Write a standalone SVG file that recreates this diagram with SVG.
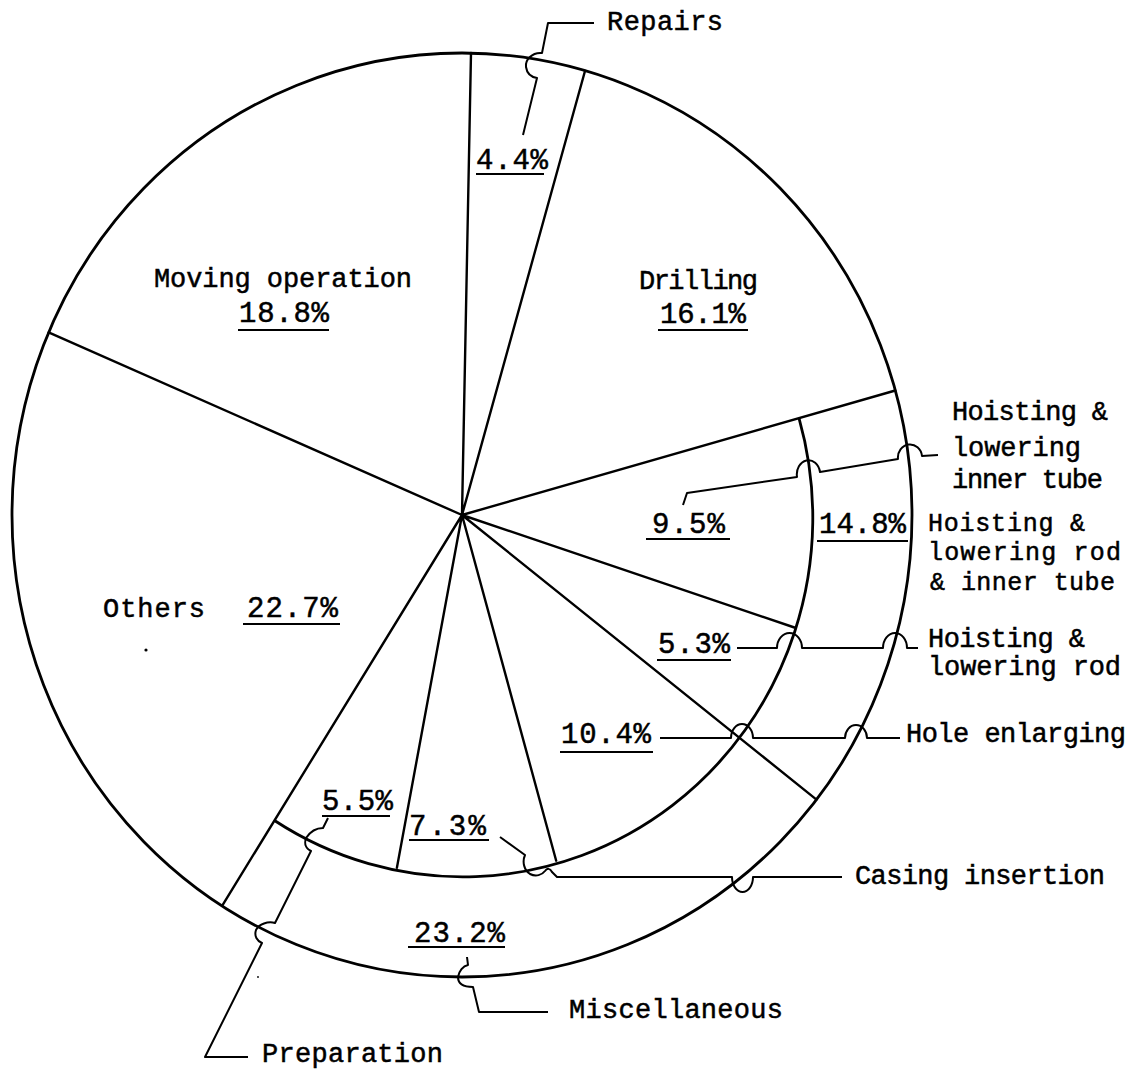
<svg xmlns="http://www.w3.org/2000/svg" width="1131" height="1072" viewBox="0 0 1131 1072">
<style>
  .bg { fill: #fff; }
  .arc { fill: none; stroke: #000; stroke-width: 2.8; }
  .ray { fill: none; stroke: #000; stroke-width: 2.4; stroke-linecap: round; }
  .lead { fill: none; stroke: #000; stroke-width: 2; stroke-linejoin: round; }
  .ul { stroke: #000; stroke-width: 2.2; }
  .w { font-family: "Liberation Mono", "Courier New", monospace; font-size: 27px; fill: #000; stroke: #000; stroke-width: 0.5; }
  .s { font-size: 25px; }
  .p { font-family: "Liberation Mono", "Courier New", monospace; font-size: 29px; fill: #000; stroke: #000; stroke-width: 0.5; }
</style>
<rect class="bg" x="0" y="0" width="1131" height="1072"/>

<g id="pie">
  <ellipse class="arc" cx="462" cy="515" rx="450" ry="462"/>
  <path class="arc" d="M799,418.1 A350,359 0 0 1 274.5,820.5"/>
  <path class="ray" d="M462,515 L48.6,332.4 M462,515 L471,53 M462,515 L585,71 M462,515 L895.3,390.5 M462,515 L794.4,627.5 M462,515 L816.5,799.6 M462,515 L556.2,860.7 M462,515 L396.9,867.7 M462,515 L222.1,905.8"/>
  <circle cx="146" cy="650" r="1.6" fill="#000"/>
  <circle cx="258" cy="977" r="0.9" fill="#000"/>
</g>

<g id="connectors">
  <path id="lead-repairs" class="lead" d="M594,23 H548 L542,53 C532,52 525,60 526,67 C527,74 531,77 537,78 L523,135"/>
  <path id="lead-hlit" class="lead" d="M683,505 L687,493 L797,477 A11.5,14 0 0 1 820,472 L898,459 A12,13 0 0 1 922,456 L938,455"/>
  <path id="lead-hlr" class="lead" d="M737,648 H777 A12.5,15 0 0 1 802,648 H883 A12,15 0 0 1 907,648 H918"/>
  <path id="lead-hole" class="lead" d="M660,738 H731 A11,14 0 0 1 753,738 H845 A11,13 0 0 1 867,738 H900"/>
  <path id="lead-casing" class="lead" d="M500,837 L525,855 C522,862 524,870 530,874 C536,877 542,875 545,871 C547,868 550,868 552,872 L557,877 H732 A10.5,15 0 0 0 753,877 H842"/>
  <path id="lead-misc" class="lead" d="M467,957 L468,965 C463,966 459,971 458,977 C458,984 463,987 473,987 L479,1012 H548"/>
  <path id="lead-prep" class="lead" d="M328,818 L323,828 C316,828 310,832 306,838 C304,844 306,849 311,851 L275,923 C268,921 259,924 256,930 C254,936 257,941 262,943 L205,1057 H248"/>
</g>

<g id="repairs">
  <text class="w" x="607" y="30" textLength="116" lengthAdjust="spacing">Repairs</text>
  <text class="p" x="476" y="169" textLength="72" lengthAdjust="spacing">4.4%</text>
  <line class="ul" x1="476" y1="174" x2="544" y2="174"/>
</g>

<g id="moving-operation">
  <text class="w" x="154" y="287" textLength="258" lengthAdjust="spacing">Moving operation</text>
  <text class="p" x="239" y="322" textLength="90" lengthAdjust="spacing">18.8%</text>
  <line class="ul" x1="238" y1="330" x2="329" y2="330"/>
</g>

<g id="drilling">
  <text class="w" x="639" y="289" textLength="119" lengthAdjust="spacing">Drilling</text>
  <text class="p" x="660" y="323" textLength="86" lengthAdjust="spacing">16.1%</text>
  <line class="ul" x1="658" y1="330" x2="748" y2="330"/>
</g>

<g id="hoisting-lowering-inner-tube">
  <text class="w" x="952" y="420" textLength="156" lengthAdjust="spacing">Hoisting &amp;</text>
  <text class="w" x="952" y="456" textLength="129" lengthAdjust="spacing">lowering</text>
  <text class="w" x="952" y="488" textLength="151" lengthAdjust="spacing">inner tube</text>
  <text class="p" x="652" y="533" textLength="73" lengthAdjust="spacing">9.5%</text>
  <line class="ul" x1="646" y1="539" x2="730" y2="539"/>
</g>

<g id="hoisting-lowering-rod-inner-tube">
  <text class="p" x="819" y="533" textLength="87" lengthAdjust="spacing">14.8%</text>
  <line class="ul" x1="817" y1="541" x2="908" y2="541"/>
  <text class="w s" x="928" y="531" textLength="157" lengthAdjust="spacing">Hoisting &amp;</text>
  <text class="w s" x="928" y="560" textLength="193" lengthAdjust="spacing">lowering rod</text>
  <text class="w s" x="930" y="590" textLength="185" lengthAdjust="spacing">&amp; inner tube</text>
</g>

<g id="others">
  <text class="w" x="103" y="617" textLength="102" lengthAdjust="spacing">Others</text>
  <text class="p" x="247" y="617" textLength="91" lengthAdjust="spacing">22.7%</text>
  <line class="ul" x1="243" y1="624" x2="340" y2="624"/>
</g>

<g id="hoisting-lowering-rod">
  <text class="p" x="658" y="653" textLength="72" lengthAdjust="spacing">5.3%</text>
  <line class="ul" x1="657" y1="660" x2="731" y2="660"/>
  <text class="w" x="928" y="647" textLength="157" lengthAdjust="spacing">Hoisting &amp;</text>
  <text class="w" x="928" y="675" textLength="193" lengthAdjust="spacing">lowering rod</text>
</g>

<g id="hole-enlarging">
  <text class="p" x="561" y="743" textLength="90" lengthAdjust="spacing">10.4%</text>
  <line class="ul" x1="560" y1="752" x2="653" y2="752"/>
  <text class="w" x="906" y="742" textLength="220" lengthAdjust="spacing">Hole enlarging</text>
</g>

<g id="preparation">
  <text class="p" x="322" y="810" textLength="71" lengthAdjust="spacing">5.5%</text>
  <line class="ul" x1="322" y1="816" x2="390" y2="816"/>
  <text class="w" x="262" y="1062" textLength="181" lengthAdjust="spacing">Preparation</text>
</g>

<g id="casing-insertion">
  <text class="p" x="409" y="835" textLength="77" lengthAdjust="spacing">7.3%</text>
  <line class="ul" x1="409" y1="840" x2="489" y2="840"/>
  <text class="w" x="855" y="884" textLength="250" lengthAdjust="spacing">Casing insertion</text>
</g>

<g id="miscellaneous">
  <text class="p" x="414" y="942" textLength="91" lengthAdjust="spacing">23.2%</text>
  <line class="ul" x1="408" y1="947" x2="505" y2="947"/>
  <text class="w" x="569" y="1018" textLength="214" lengthAdjust="spacing">Miscellaneous</text>
</g>
</svg>
